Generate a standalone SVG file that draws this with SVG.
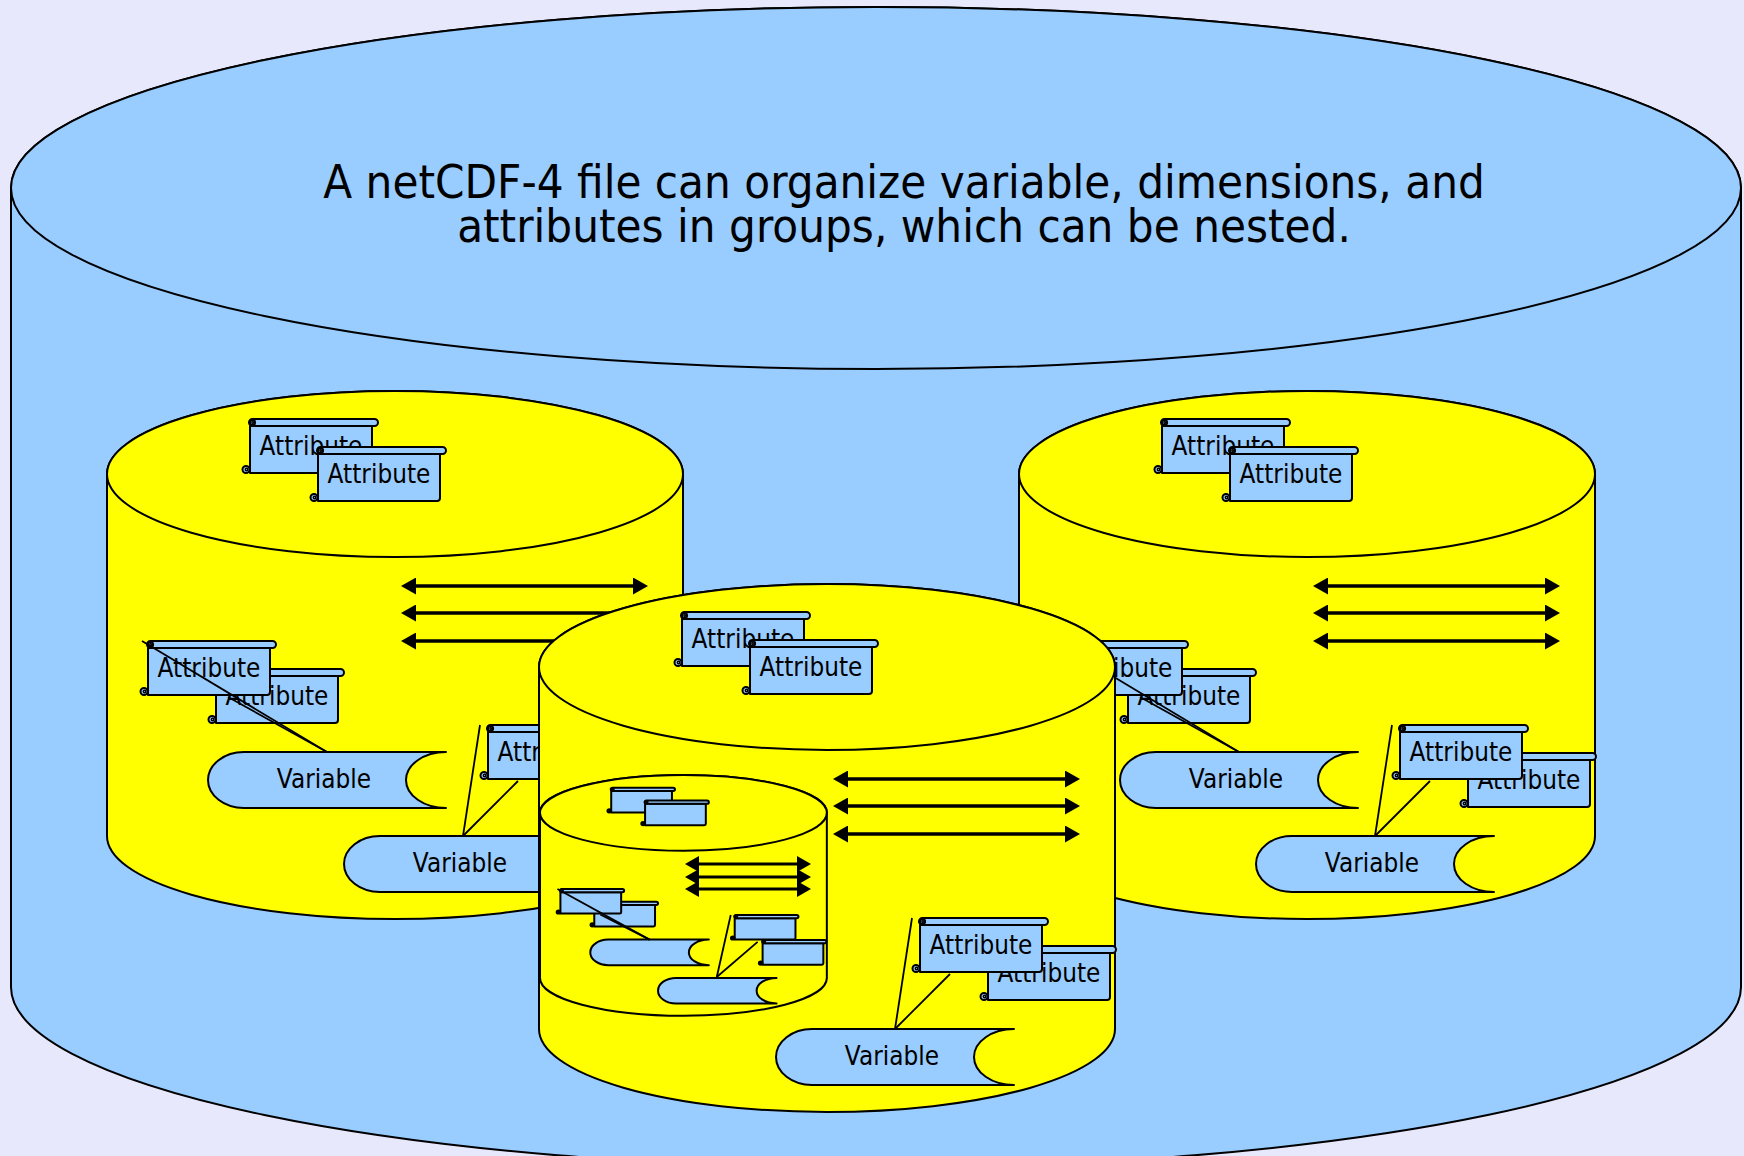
<svg xmlns="http://www.w3.org/2000/svg" xmlns:xlink="http://www.w3.org/1999/xlink" width="1744" height="1156" viewBox="0 0 1744 1156">
  <defs>
    <style>
      .bg { fill: #e8e8fc; }
      .file { fill: #99ccff; stroke: #000; stroke-width: 2; }
      .cyl { fill: #ffff00; stroke: #000; stroke-width: 2; }
      .sc { fill: #99ccff; stroke: #000; stroke-width: 2; stroke-linejoin: round; vector-effect: non-scaling-stroke; }
      .curl { fill: none; stroke: #000; stroke-width: 1.4; vector-effect: non-scaling-stroke; }
      .lbl { font-family: "DejaVu Sans", "Liberation Sans", sans-serif; font-size: 23.3px; text-anchor: middle; fill: #000; }
      .title { font-family: "DejaVu Sans", "Liberation Sans", sans-serif; font-size: 42.3px; text-anchor: middle; fill: #000; }
      .dim { fill: none; stroke: #000; stroke-width: 3.3; marker-start: url(#ah); marker-end: url(#ah); }
      .dim-s { fill: none; stroke: #000; stroke-width: 3.2; marker-start: url(#ahs); marker-end: url(#ahs); }
      .lead { fill: none; stroke: #000; stroke-width: 1.8; vector-effect: non-scaling-stroke; }
    </style>
    <marker id="ah" viewBox="0 0 15 17" refX="7" refY="8.5" markerWidth="15" markerHeight="17" markerUnits="userSpaceOnUse" orient="auto-start-reverse">
      <path d="M0 0 L15 8.5 L0 17 Z" fill="#000"/>
    </marker>
    <marker id="ahs" viewBox="0 0 14 16" refX="6" refY="8" markerWidth="14" markerHeight="16" markerUnits="userSpaceOnUse" orient="auto-start-reverse">
      <path d="M0 0 L14 8 L0 16 Z" fill="#000"/>
    </marker>
    <!-- scroll-shaped attribute box; origin = left edge of body / top of roll -->
    <g id="attr">
      <path class="sc" d="M0 7 H122 V51 Q122 54 119 54 H0 Z"/>
      <rect class="sc" x="-1" y="0" width="129" height="7" rx="3.5"/>
      <circle class="sc" cx="-4" cy="50.5" r="3.5"/>
      <circle class="curl" cx="-3.5" cy="50.5" r="1.2"/>
      <circle class="sc" cx="2.5" cy="3.5" r="2.6"/>
      <circle class="curl" cx="2.8" cy="3.5" r="0.9"/>
    </g>
    <!-- stored-data style variable shape; origin = leftmost point x / top y -->
    <path id="var" class="sc" d="M36 0 H238 A40 28 0 0 0 238 56 H36 A36 28 0 0 1 36 0 Z"/>
  </defs>

  <rect class="bg" x="0" y="0" width="1744" height="1156"/>

  <!-- the netCDF-4 file -->
  <g id="file">
    <path class="file" d="M11 188 V987 A865 181 0 0 0 1741 987 V188 A865 181 0 0 0 11 188 Z"/>
    <ellipse class="file" cx="876" cy="188" rx="865" ry="181"/>
    <text class="title" transform="translate(904 198) scale(1 1.1)">A netCDF-4 file can organize variable, dimensions, and</text>
    <text class="title" transform="translate(904 242) scale(1 1.1)">attributes in groups, which can be nested.</text>
  </g>

  <!-- left group -->
  <g id="group-left">
    <path class="cyl" d="M107 474 V836 A288 83 0 0 0 683 836 V474 A288 83 0 0 0 107 474 Z"/>
    <ellipse class="cyl" cx="395" cy="474" rx="288" ry="83"/>
    <g id="left-attr-1"><use href="#attr" x="250" y="419"/><text class="lbl" transform="translate(311 455) scale(1 1.12)">Attribute</text></g>
    <g id="left-attr-2"><use href="#attr" x="318" y="447"/><text class="lbl" transform="translate(379 483) scale(1 1.12)">Attribute</text></g>
    <g id="left-dims">
      <line class="dim" x1="409" y1="586" x2="640" y2="586"/>
      <line class="dim" x1="409" y1="613" x2="640" y2="613"/>
      <line class="dim" x1="409" y1="641" x2="640" y2="641"/>
    </g>
    <g id="left-var1-attr-b"><use href="#attr" x="216" y="669"/><text class="lbl" transform="translate(277 705) scale(1 1.12)">Attribute</text></g>
    <g id="left-var1-attr-a"><use href="#attr" x="148" y="641"/><text class="lbl" transform="translate(209 677) scale(1 1.12)">Attribute</text></g>
    <g id="left-var1"><use href="#var" x="208" y="752"/><text class="lbl" transform="translate(324 788) scale(1 1.12)">Variable</text></g>
    <g id="left-var2-attr-b"><use href="#attr" x="556" y="753"/><text class="lbl" transform="translate(617 789) scale(1 1.12)">Attribute</text></g>
    <g id="left-var2-attr-a"><use href="#attr" x="488" y="725"/><text class="lbl" transform="translate(549 761) scale(1 1.12)">Attribute</text></g>
    <g id="left-var2"><use href="#var" x="344" y="836"/><text class="lbl" transform="translate(460 872) scale(1 1.12)">Variable</text></g>
    <g id="left-links">
      <line class="lead" x1="327" y1="752" x2="142" y2="641"/>
      <line class="lead" x1="327" y1="752" x2="228" y2="697"/>
      <line class="lead" x1="463" y1="836" x2="480" y2="725"/>
      <line class="lead" x1="463" y1="836" x2="518" y2="781"/>
    </g>
  </g>

  <!-- right group -->
  <g id="group-right" transform="translate(912 0)">
    <path class="cyl" d="M107 474 V836 A288 83 0 0 0 683 836 V474 A288 83 0 0 0 107 474 Z"/>
    <ellipse class="cyl" cx="395" cy="474" rx="288" ry="83"/>
    <g id="right-attr-1"><use href="#attr" x="250" y="419"/><text class="lbl" transform="translate(311 455) scale(1 1.12)">Attribute</text></g>
    <g id="right-attr-2"><use href="#attr" x="318" y="447"/><text class="lbl" transform="translate(379 483) scale(1 1.12)">Attribute</text></g>
    <g id="right-dims">
      <line class="dim" x1="409" y1="586" x2="640" y2="586"/>
      <line class="dim" x1="409" y1="613" x2="640" y2="613"/>
      <line class="dim" x1="409" y1="641" x2="640" y2="641"/>
    </g>
    <g id="right-var1-attr-b"><use href="#attr" x="216" y="669"/><text class="lbl" transform="translate(277 705) scale(1 1.12)">Attribute</text></g>
    <g id="right-var1-attr-a"><use href="#attr" x="148" y="641"/><text class="lbl" transform="translate(209 677) scale(1 1.12)">Attribute</text></g>
    <g id="right-var1"><use href="#var" x="208" y="752"/><text class="lbl" transform="translate(324 788) scale(1 1.12)">Variable</text></g>
    <g id="right-var2-attr-b"><use href="#attr" x="556" y="753"/><text class="lbl" transform="translate(617 789) scale(1 1.12)">Attribute</text></g>
    <g id="right-var2-attr-a"><use href="#attr" x="488" y="725"/><text class="lbl" transform="translate(549 761) scale(1 1.12)">Attribute</text></g>
    <g id="right-var2"><use href="#var" x="344" y="836"/><text class="lbl" transform="translate(460 872) scale(1 1.12)">Variable</text></g>
    <g id="right-links">
      <line class="lead" x1="327" y1="752" x2="142" y2="641"/>
      <line class="lead" x1="327" y1="752" x2="228" y2="697"/>
      <line class="lead" x1="463" y1="836" x2="480" y2="725"/>
      <line class="lead" x1="463" y1="836" x2="518" y2="781"/>
    </g>
  </g>

  <!-- centre group (holds a nested group in place of its first variable) -->
  <g id="group-centre" transform="translate(432 193)">
    <path class="cyl" d="M107 474 V836 A288 83 0 0 0 683 836 V474 A288 83 0 0 0 107 474 Z"/>
    <ellipse class="cyl" cx="395" cy="474" rx="288" ry="83"/>
    <g id="centre-attr-1"><use href="#attr" x="250" y="419"/><text class="lbl" transform="translate(311 455) scale(1 1.12)">Attribute</text></g>
    <g id="centre-attr-2"><use href="#attr" x="318" y="447"/><text class="lbl" transform="translate(379 483) scale(1 1.12)">Attribute</text></g>
    <g id="centre-dims">
      <line class="dim" x1="409" y1="586" x2="640" y2="586"/>
      <line class="dim" x1="409" y1="613" x2="640" y2="613"/>
      <line class="dim" x1="409" y1="641" x2="640" y2="641"/>
    </g>
    <g id="centre-var-attr-b"><use href="#attr" x="556" y="753"/><text class="lbl" transform="translate(617 789) scale(1 1.12)">Attribute</text></g>
    <g id="centre-var-attr-a"><use href="#attr" x="488" y="725"/><text class="lbl" transform="translate(549 761) scale(1 1.12)">Attribute</text></g>
    <g id="centre-var"><use href="#var" x="344" y="836"/><text class="lbl" transform="translate(460 872) scale(1 1.12)">Variable</text></g>
    <g id="centre-links">
      <line class="lead" x1="463" y1="836" x2="480" y2="725"/>
      <line class="lead" x1="463" y1="836" x2="518" y2="781"/>
    </g>
  </g>

  <!-- nested group inside the centre group, drawn at reduced scale -->
  <g id="group-nested">
    <g transform="matrix(0.498 0 0 0.456 486.71 596.7)">
      <path class="cyl sc" style="fill:#ffff00" d="M107 474 V836 A288 83 0 0 0 683 836 V474 A288 83 0 0 0 107 474 Z"/>
      <ellipse class="cyl sc" style="fill:#ffff00" cx="395" cy="474" rx="288" ry="83"/>
      <g id="nested-attr-1"><use href="#attr" x="250" y="419"/></g>
      <g id="nested-attr-2"><use href="#attr" x="318" y="447"/></g>
      <g id="nested-var1-attr-b"><use href="#attr" x="216" y="669"/></g>
      <g id="nested-var1-attr-a"><use href="#attr" x="148" y="641"/></g>
      <g id="nested-var1"><use href="#var" x="208" y="752"/></g>
      <g id="nested-var2-attr-a"><use href="#attr" x="498" y="698"/></g>
      <g id="nested-var2-attr-b"><use href="#attr" x="554" y="753"/></g>
      <g id="nested-var2"><use href="#var" x="344" y="836"/></g>
      <g id="nested-links">
        <line class="lead" x1="327" y1="752" x2="142" y2="641"/>
        <line class="lead" x1="327" y1="752" x2="228" y2="697"/>
        <line class="lead" x1="462" y1="834" x2="490" y2="698"/>
        <line class="lead" x1="462" y1="834" x2="544" y2="757"/>
      </g>
    </g>
    <g id="nested-dims">
      <line class="dim-s" x1="693" y1="864" x2="803" y2="864"/>
      <line class="dim-s" x1="693" y1="877" x2="803" y2="877"/>
      <line class="dim-s" x1="693" y1="889" x2="803" y2="889"/>
    </g>
  </g>
</svg>
